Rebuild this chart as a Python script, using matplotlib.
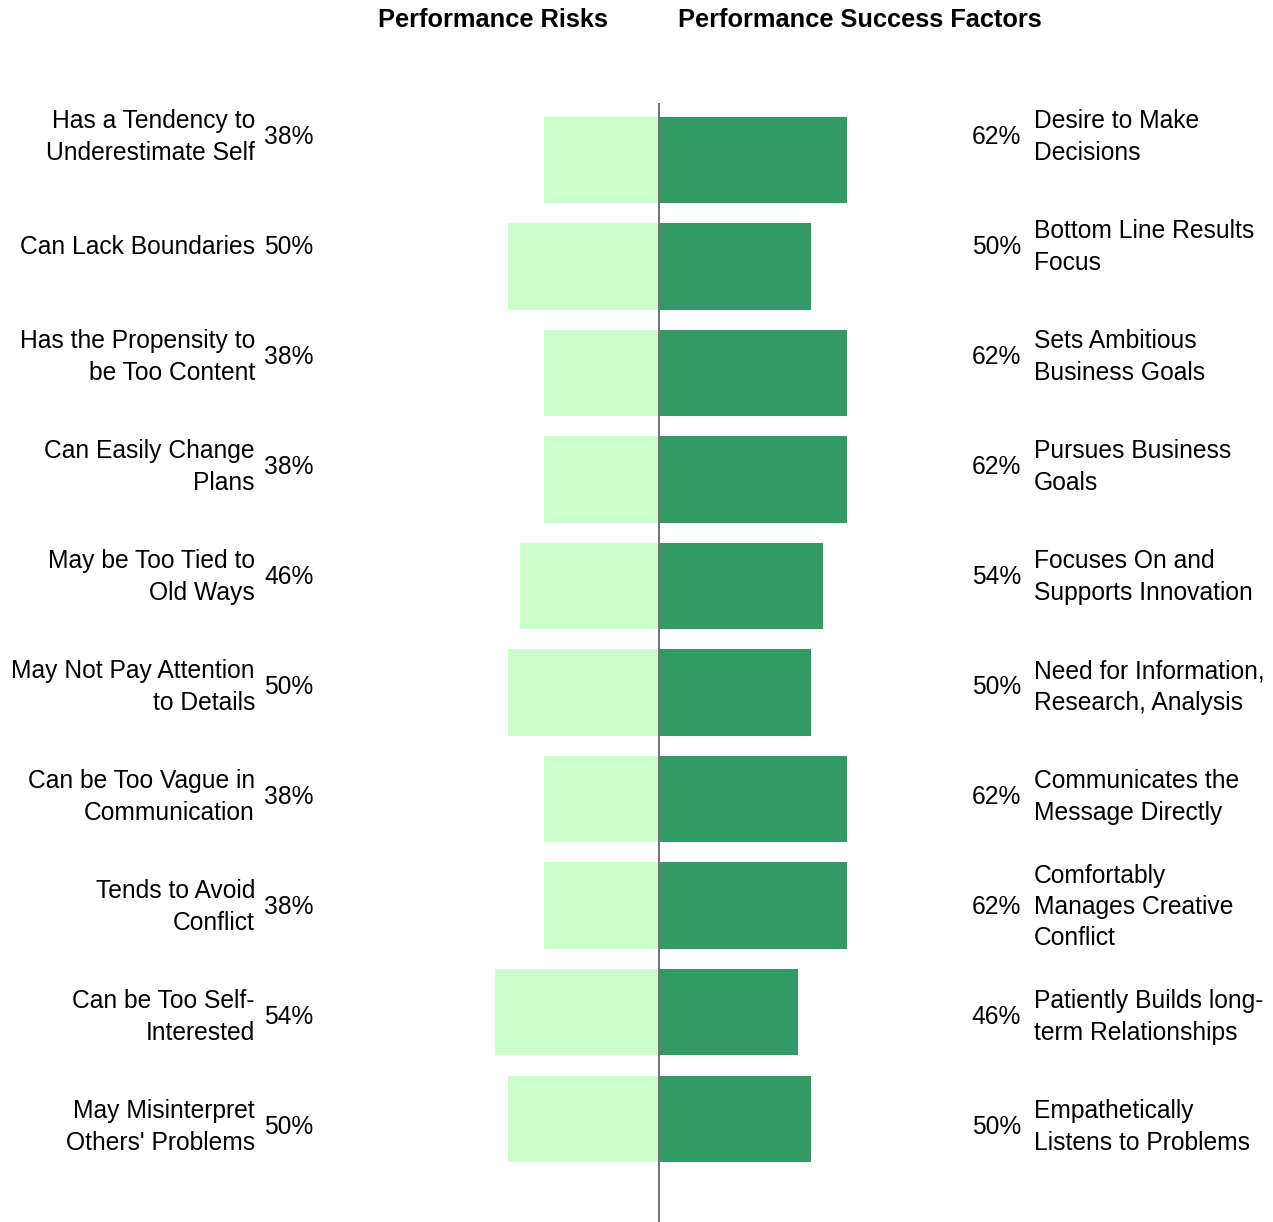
import matplotlib
matplotlib.use("Agg")
import matplotlib.pyplot as plt

plt.rcParams['font.family'] = ['Liberation Sans', 'DejaVu Sans']

risk_labels = [
    "Has a Tendency to\nUnderestimate Self",
    "Can Lack Boundaries",
    "Has the Propensity to\nbe Too Content",
    "Can Easily Change\nPlans",
    "May be Too Tied to\nOld Ways",
    "May Not Pay Attention\nto Details",
    "Can be Too Vague in\nCommunication",
    "Tends to Avoid\nConflict",
    "Can be Too Self-\nInterested",
    "May Misinterpret\nOthers' Problems",
]
risk_values = [38, 50, 38, 38, 46, 50, 38, 38, 54, 50]

success_labels = [
    "Desire to Make\nDecisions",
    "Bottom Line Results\nFocus",
    "Sets Ambitious\nBusiness Goals",
    "Pursues Business\nGoals",
    "Focuses On and\nSupports Innovation",
    "Need for Information,\nResearch, Analysis",
    "Communicates the\nMessage Directly",
    "Comfortably\nManages Creative\nConflict",
    "Patiently Builds long-\nterm Relationships",
    "Empathetically\nListens to Problems",
]
success_values = [62, 50, 62, 62, 54, 50, 62, 62, 46, 50]

W, H = 1273, 1222
fig = plt.figure(figsize=(W / 100, H / 100), dpi=100)

# axes in pixel coordinates
ax_left, ax_right = 450, 880
ax_top, ax_bottom = 103, 1222
ax = fig.add_axes([ax_left / W, 1 - ax_bottom / H, (ax_right - ax_left) / W, (ax_bottom - ax_top) / H])
px_per_pct = 3.03
center_px = 659
ax.set_xlim(-(center_px - ax_left) / px_per_pct, (ax_right - center_px) / px_per_pct)
ax.set_ylim(9.97, -0.535)
ax.axis('off')

n = len(risk_values)
rows = list(range(n))
ax.barh(rows, [-v for v in risk_values], height=0.81, color='#ccffcc', linewidth=0)
ax.barh(rows, success_values, height=0.81, color='#339966', linewidth=0)
ax.axvline(0, color='#707070', linewidth=1.4)

fs = 17.7
ls = 1.39

def fx(px):
    return px / W

def fy(py):
    return 1 - py / H

for i in rows:
    y = fy(137 + 110 * i)
    fig.text(fx(255), y, risk_labels[i], ha='right', va='center',
             fontsize=fs, linespacing=ls, color='black')
    fig.text(fx(264), y, f"{risk_values[i]}%", ha='left', va='center',
             fontsize=fs, color='black')
    fig.text(fx(1021), y, f"{success_values[i]}%", ha='right', va='center',
             fontsize=fs, color='black')
    fig.text(fx(1034), y, success_labels[i], ha='left', va='center',
             fontsize=fs, linespacing=ls, color='black')

fig.text(fx(493.5), fy(20), "Performance Risks", ha='center', va='center',
         fontsize=18.3, fontweight='bold')
fig.text(fx(859.5), fy(20), "Performance Success Factors", ha='center', va='center',
         fontsize=18.3, fontweight='bold')

fig.savefig("out.png", dpi=100, facecolor='white')
